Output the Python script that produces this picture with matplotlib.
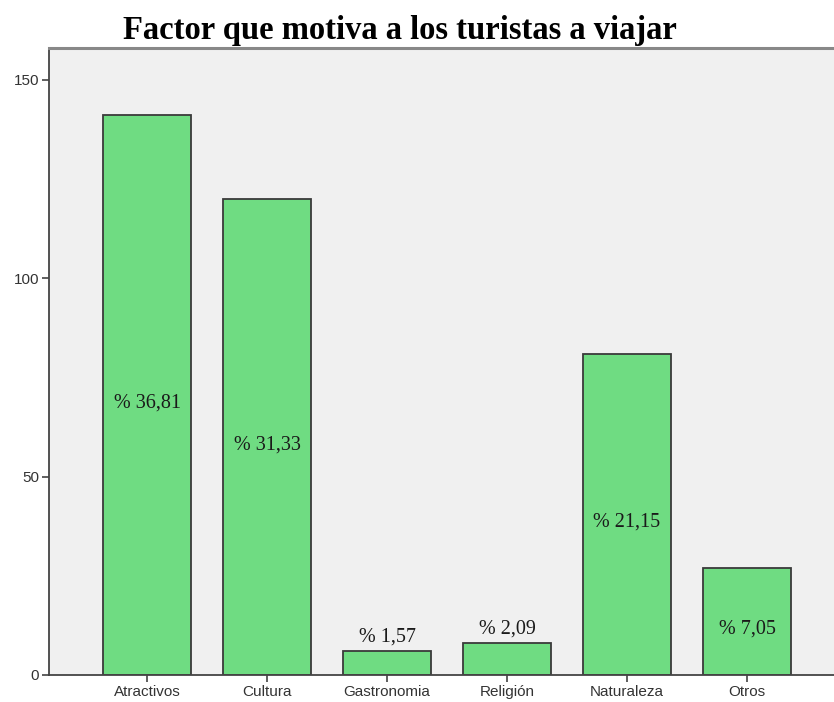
import matplotlib.pyplot as plt

categories = ["Atractivos", "Cultura", "Gastronomia", "Religión", "Naturaleza", "Otros"]
counts = [141, 120, 6, 8, 81, 27]
percent_labels = ["% 36,81", "% 31,33", "% 1,57", "% 2,09", "% 21,15", "% 7,05"]
y_ticks = [0, 50, 100, 150]

fig = plt.figure(figsize=(8.34, 7.02), dpi=100)
ax = fig.add_axes([49 / 834, 27 / 702, 1 - 49 / 834, (675 - 48) / 702])
ax.set_facecolor("#f0f0f0")

x = list(range(len(categories)))
ax.bar(x, counts, width=0.74, color="#6fdc82", edgecolor="#3a3a3a", linewidth=1.3, zorder=2)

for xi, val, lab in zip(x, counts, percent_labels):
    if val > 20:
        ypos, va = val / 2 - 2, "center"
    else:
        ypos, va = val + 1.2, "bottom"
    ax.text(xi, ypos, lab, ha="center", va=va, fontsize=14.5,
            family="Liberation Serif", color="#1a1a1a", zorder=3)

ax.set_xlim(-0.817, 5.725)
ax.set_ylim(0, 158)
ax.set_xticks(x)
ax.set_xticklabels(categories, family="Liberation Sans", fontsize=11, color="#333333")
ax.set_yticks(y_ticks)
ax.set_yticklabels([str(t) for t in y_ticks], family="Liberation Sans", fontsize=11, color="#333333")
ax.tick_params(axis="both", direction="out", length=5, width=1.2, color="#444444", pad=2)

for side in ("left", "bottom"):
    ax.spines[side].set_color("#444444")
    ax.spines[side].set_linewidth(1.3)
ax.spines["top"].set_color("#888888")
ax.spines["top"].set_linewidth(2.2)
ax.spines["right"].set_visible(False)

fig.text(400 / 834, 1 - 30 / 702, "Factor que motiva a los turistas a viajar",
         ha="center", va="center", fontsize=23.5, fontweight="bold",
         family="Liberation Serif", color="black")

fig.savefig("out.png", dpi=100, facecolor="white")
